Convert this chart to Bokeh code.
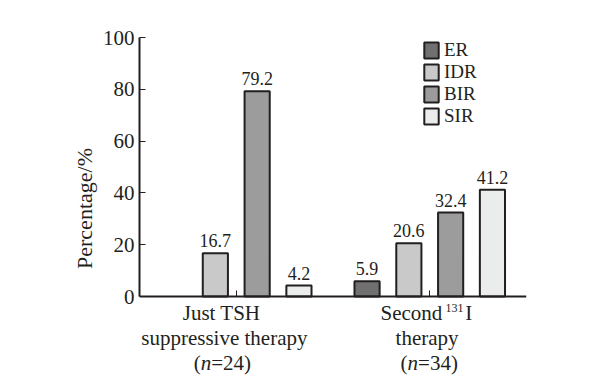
from bokeh.plotting import figure
from bokeh.models import ColumnDataSource, FactorRange, Range1d, FixedTicker, Label
from bokeh.transform import dodge
from bokeh.embed import file_html
from bokeh.resources import INLINE

# ---- data ----
groups = ["Just TSH suppressive therapy", "Second 131I therapy"]
series = ["ER", "IDR", "BIR", "SIR"]
ER = [float("nan"), 5.9]   # no ER case in the first group
IDR = [16.7, 20.6]
BIR = [79.2, 32.4]
SIR = [4.2, 41.2]
y_ticks = [0, 20, 40, 60, 80, 100]
n_values = [24, 34]

colors = {"ER": "#707070", "IDR": "#c9c9c9", "BIR": "#9c9c9c", "SIR": "#ebedec"}
edge = "#231f20"
FONT = "Liberation Serif"

values = {"ER": ER, "IDR": IDR, "BIR": BIR, "SIR": SIR}

# layout: frame from x=139..526, y(100)=37, y(0)=296, frame extends below 0 for category text
TOP, ZERO, FB = 37, 296, 379
SCALE = (ZERO - TOP) / 100.0
y_bottom = -(FB - ZERO) / SCALE

p = figure(x_range=FactorRange(*groups, range_padding=0), y_range=Range1d(y_bottom, 100),
           frame_width=387, frame_height=FB - TOP, output_backend="svg", toolbar_location=None,
           min_border_left=139, min_border_top=TOP, min_border_right=50, min_border_bottom=0)
p.outline_line_color = None
p.grid.visible = False
p.background_fill_color = "white"

offsets = [-0.324, -0.108, 0.108, 0.324]
for s, off in zip(series, offsets):
    vals = values[s]
    src = ColumnDataSource(dict(g=groups, v=vals,
                                t=["" if v != v else f"{v:.1f}" for v in vals]))
    p.vbar(x=dodge("g", off, range=p.x_range), top="v", bottom=0, width=0.13, source=src,
           fill_color=colors[s], line_color=edge, line_width=2, legend_label=s)
    p.text(x=dodge("g", off, range=p.x_range), y="v", text="t", source=src,
           text_font={"value": FONT}, text_font_size="18px", text_color="#231f20",
           text_align="center", text_baseline="bottom", y_offset=-6)

# axes
yax = p.yaxis[0]
yax.ticker = FixedTicker(ticks=y_ticks)
yax.bounds = (0, 100)
yax.axis_line_width = 2
yax.axis_line_color = edge
yax.major_tick_in = 6
yax.major_tick_out = 0
yax.major_tick_line_color = edge
yax.minor_tick_line_color = None
yax.major_label_text_font = FONT
yax.major_label_text_font_size = "21px"
yax.major_label_text_color = "#231f20"
yax.axis_label = "Percentage/%"
yax.axis_label_text_font = FONT
yax.axis_label_text_font_style = "normal"
yax.axis_label_text_font_size = "22px"
yax.axis_label_text_color = "#231f20"
yax.axis_label_standoff = 3

xax = p.xaxis[0]
xax.fixed_location = 0
xax.axis_line_width = 2
xax.axis_line_color = edge
xax.major_tick_in = 6
xax.major_tick_out = 0
xax.major_tick_line_color = edge
xax.major_label_standoff = 0
xax.major_label_text_font_size = "0px"
xax.major_label_text_color = None

# category labels below the axis
def lab(x, xo, yo, text, size="21px", style="normal"):
    p.add_layout(Label(x=x, y=0, x_units="data", y_units="data", x_offset=xo, y_offset=yo,
                       text=text, text_font=FONT, text_font_size=size, text_font_style=style,
                       text_color="#231f20", text_align="left", text_baseline="alphabetic"))

# group 1
lab(0.5, -53.5, -16, "Just TSH")
lab(0.5, -95.0, -41, "suppressive therapy")
lab(0.5, -42.5, -66, "(")
lab(0.5, -35.5, -66, "n", style="italic")
lab(0.5, -25, -66, f"={n_values[0]})")
# group 2
lab(1.5, -49.2, -16, "Second")
lab(1.5, 15.8, -11, "131", size="12px")
lab(1.5, 35.5, -16, "I")
lab(1.5, -34.2, -41, "therapy")
lab(1.5, -29.2, -66, "(")
lab(1.5, -22.2, -66, "n", style="italic")
lab(1.5, -11.7, -66, f"={n_values[1]})")

# legend (location measured from the frame's bottom-left corner)
lg = p.legend[0]
lg.location = (283, FB - 127)
lg.padding = 0
lg.margin = 0
lg.spacing = 0
lg.glyph_width = 18
lg.glyph_height = 20
lg.label_height = 20
lg.label_standoff = 4
lg.label_text_font = FONT
lg.label_text_font_size = "19px"
lg.label_text_color = "#231f20"
lg.border_line_color = None
lg.background_fill_alpha = 0

open("out.html", "w").write(file_html(p, INLINE))
